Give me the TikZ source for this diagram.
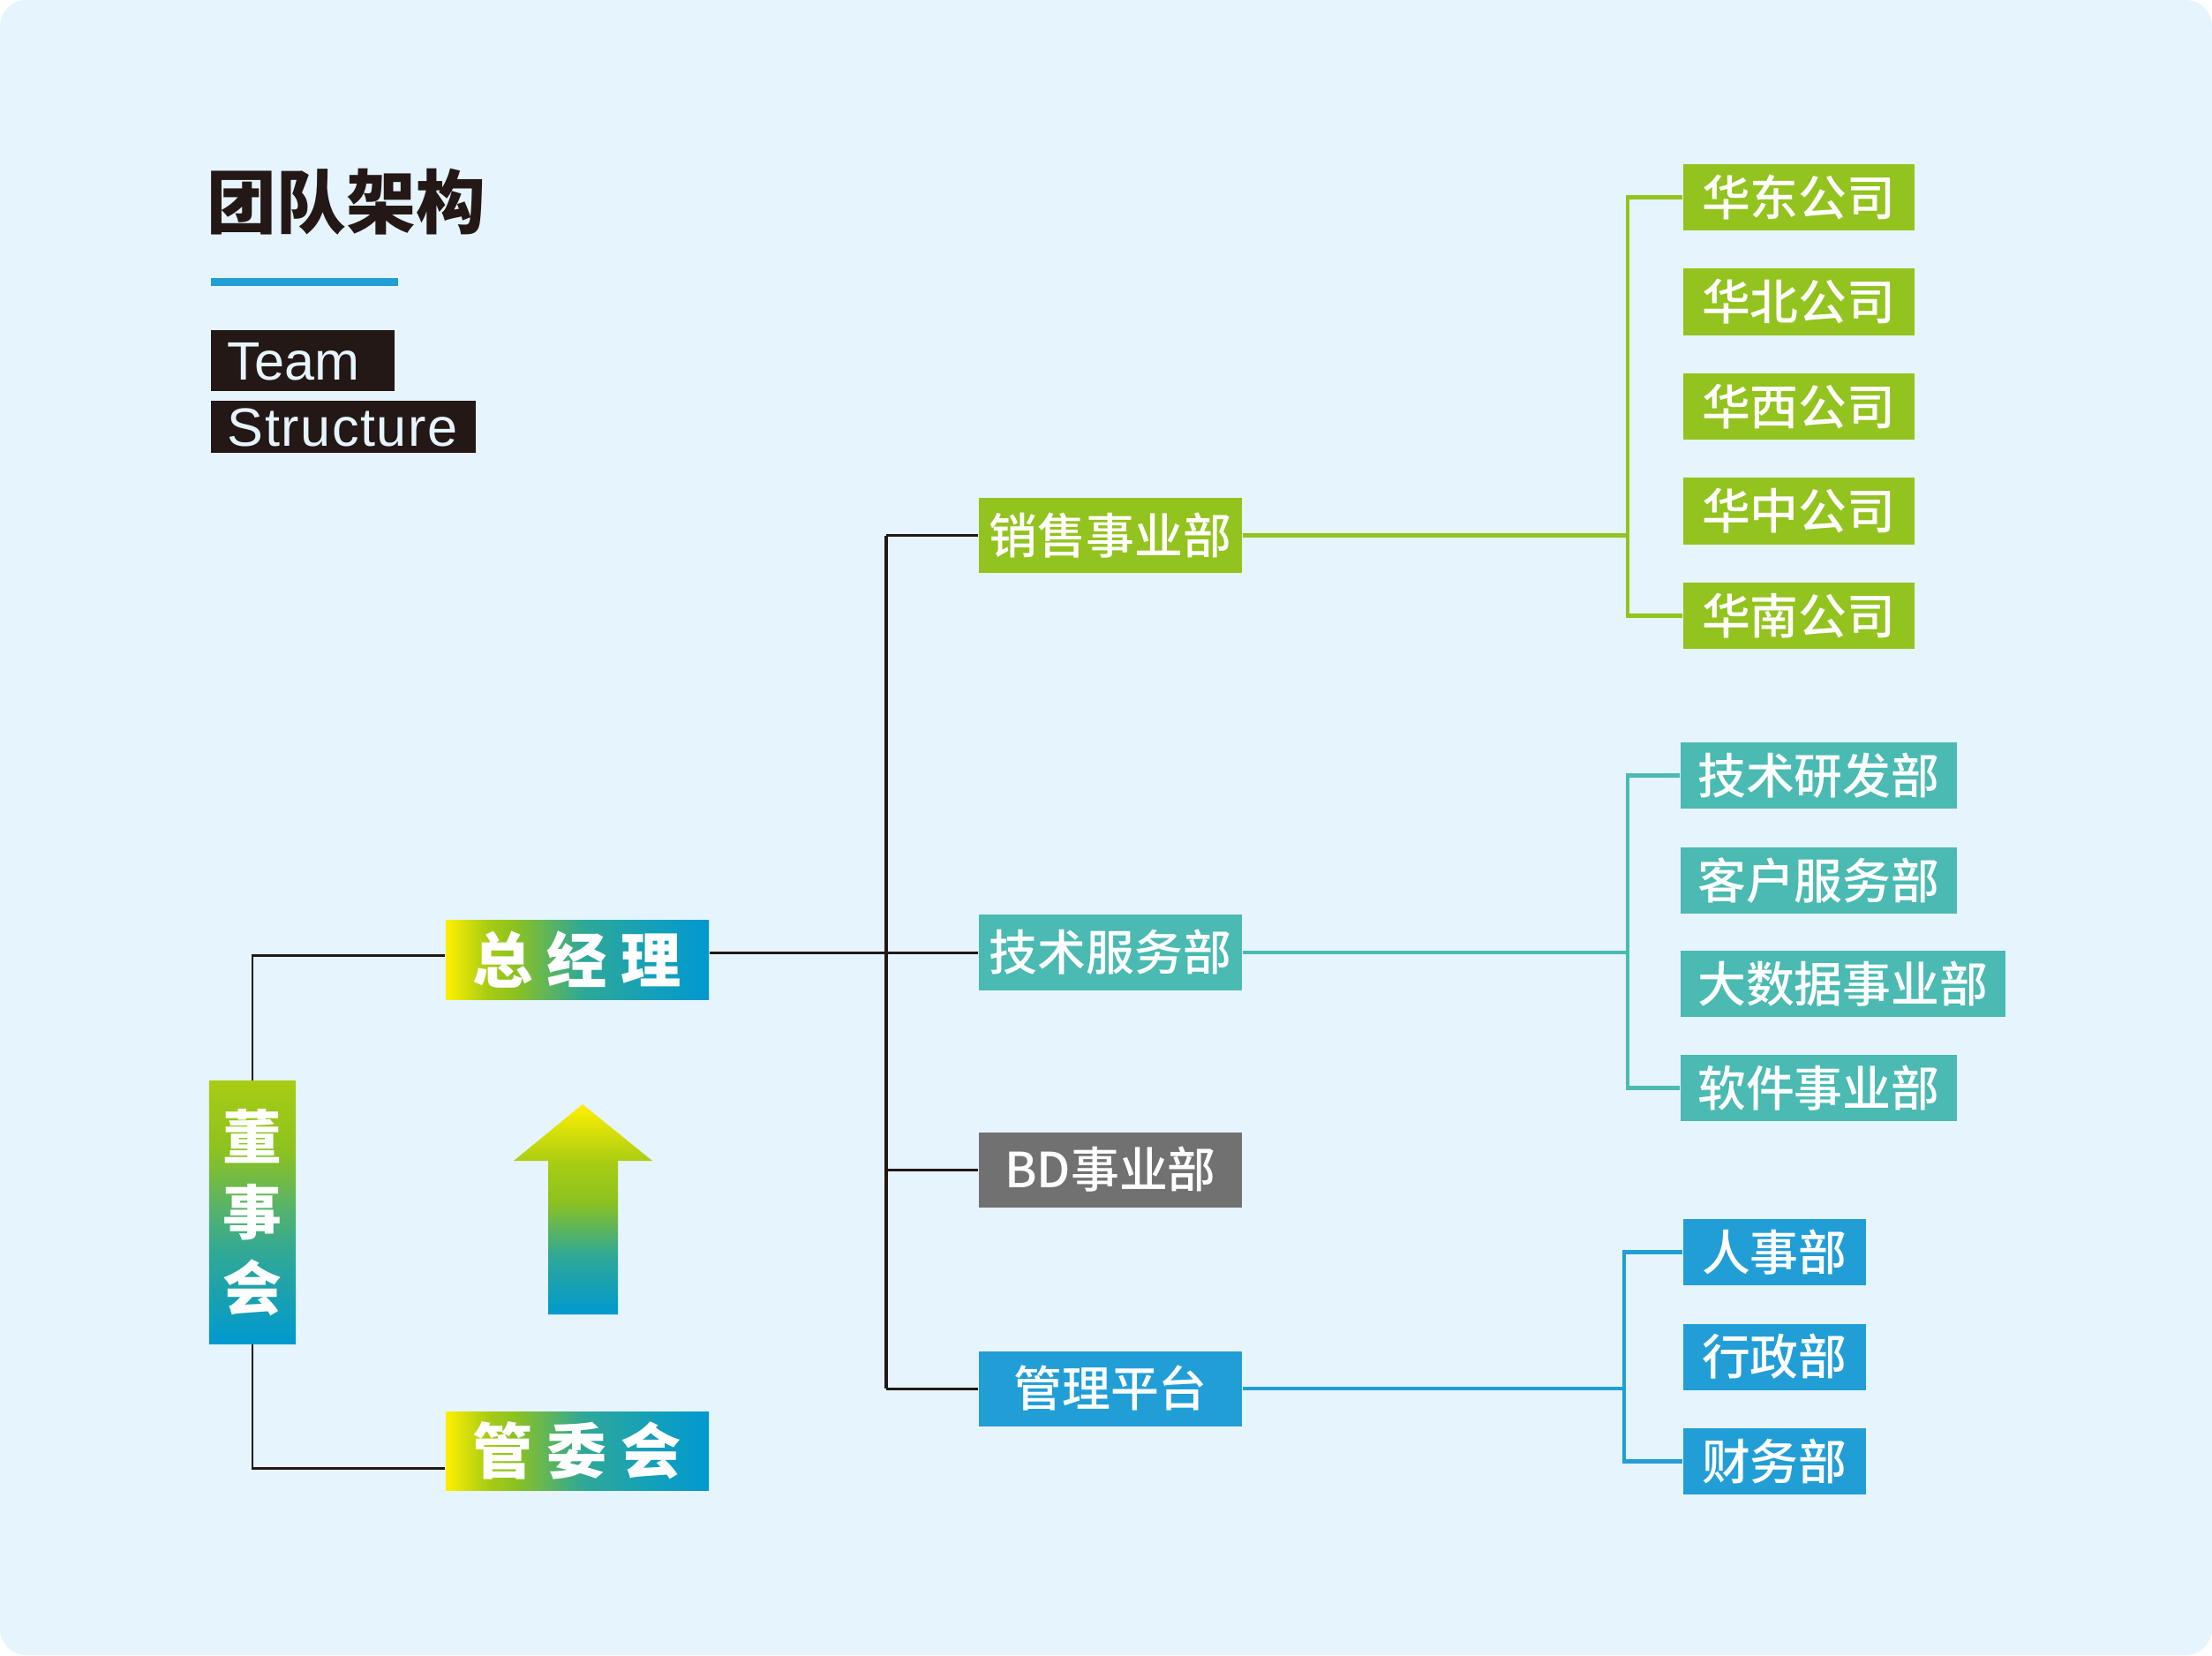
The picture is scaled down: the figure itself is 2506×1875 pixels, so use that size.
\documentclass[tikz,border=0pt]{standalone}
\usepackage{fontspec}
\newfontfamily\cjk{Noto Sans CJK SC}
\newfontfamily\cjkmed{Noto Sans CJK SC Medium}
\newfontfamily\latinsf{Liberation Sans}
\usetikzlibrary{positioning,calc}

\definecolor{bgblue}{HTML}{E6F4FE}
\definecolor{tblack}{HTML}{231815}
\definecolor{salesgreen}{HTML}{93C31E}
\definecolor{techteal}{HTML}{4ABAB2}
\definecolor{bdgray}{HTML}{717171}
\definecolor{mgmtblue}{HTML}{229ED6}
\definecolor{gyel}{HTML}{FFF000}
\definecolor{gygr}{HTML}{A8CC14}
\definecolor{ggrn}{HTML}{8DC21F}
\definecolor{gmid}{HTML}{52B26F}
\definecolor{gtea}{HTML}{2FA897}
\definecolor{gcya}{HTML}{14A0BA}
\definecolor{gblu}{HTML}{0099CF}

\pgfdeclarehorizontalshading{headshade}{100bp}{color(0bp)=(gyel); color(25bp)=(gyel);
  color(33bp)=(gygr); color(38bp)=(ggrn); color(51bp)=(gtea); color(64bp)=(gcya);
  color(75bp)=(gblu); color(100bp)=(gblu)}
\pgfdeclareverticalshading{boardshade}{100bp}{color(0bp)=(gblu); color(25bp)=(gblu);
  color(42bp)=(gtea); color(50bp)=(gmid); color(62bp)=(ggrn); color(75bp)=(gygr);
  color(100bp)=(gygr)}
\pgfdeclareverticalshading{arrowshade}{100bp}{color(0bp)=(gblu); color(25bp)=(gblu);
  color(39bp)=(gtea); color(52bp)=(ggrn); color(61bp)=(gygr); color(75bp)=(gyel);
  color(100bp)=(gyel)}

\begin{document}
\begin{tikzpicture}[x=0.01cm,y=-0.01cm,
    lvtwo/.style={minimum width=2.98cm,minimum height=0.85cm,inner sep=0pt,text=white,
      font=\cjkmed\fontsize{15.6}{18}\selectfont,text height=13pt,text depth=1.1pt},
    lvthree/.style={lvtwo,minimum height=0.75cm,anchor=west},
    topbox/.style={shade,shading=headshade,minimum width=2.98cm,minimum height=0.89cm,
      inner sep=0pt,text=white,font=\cjk\bfseries\fontsize{19.4}{22}\selectfont,
      text height=16.1pt,text depth=1.4pt},
    tagbox/.style={fill=tblack,text=bgblue,anchor=north west,inner xsep=0.19cm,
      inner ysep=0pt,align=left,font=\latinsf\fontsize{17.4}{20}\selectfont,
      text height=12.45pt,text depth=0pt},
    blackline/.style={tblack,line width=0.85pt},
    busline/.style={line width=1.4pt}]
    \useasboundingbox (0,0) rectangle (2506,1875);
    \fill[white] (0,0) rectangle (2506,1875);
    \fill[bgblue,rounded corners=0.3cm] (0,0) rectangle (2506,1875);

    % Heading
    \node[anchor=west,inner sep=0pt,text=tblack,font=\cjk\bfseries\fontsize{22.4}{26}\selectfont] (title) at (234,229) {团队架构};
    \fill[mgmtblue] (239,315) rectangle (451,324);
    \node[tagbox,text width=1.70cm,minimum height=0.69cm] (team) at (238,373) {Team};
    \node[tagbox,text width=2.62cm,minimum height=0.59cm] (structure) at (238,453) {\addfontfeature{LetterSpace=2.5}Structure};

    % Top level
    \node[topbox] (zjl) at (654,1087.5) {总\hspace{4.5pt}经\hspace{4.5pt}理};
    \node[topbox] (gwh) at (654,1643.5) {管\hspace{4.5pt}委\hspace{4.5pt}会};
    \node[shade,shading=boardshade,minimum width=0.98cm,minimum height=2.97cm,inner sep=0pt,
      text=white,align=center,font=\cjk\bfseries\fontsize{19}{24.2}\selectfont] (dsh) at (286,1373.5) {董\\事\\会};
    \shade[shading=arrowshade] (660,1251) -- (739,1315) -- (700,1315) -- (700,1489)
      -- (621,1489) -- (621,1315) -- (582,1315) -- cycle;
    \draw[blackline] (dsh.north) |- ([yshift=0.05cm]zjl.west);
    \draw[blackline] (dsh.south) |- ([yshift=-0.2cm]gwh.west);

    % Departments
    \node[lvtwo,fill=salesgreen] (xs) at (1258,606.5) {销售事业部};
    \node[lvtwo,fill=techteal] (js) at (1258,1079) {技术服务部};
    \node[lvtwo,fill=bdgray] (bd) at (1258,1325) {BD事业部};
    \node[lvtwo,fill=mgmtblue] (gl) at (1258,1573) {管理平台};
    \coordinate (trunk) at (1004,0);
    \draw[tblack,line width=1.2pt] (xs.west -| trunk) -- (gl.west -| trunk);
    \draw[blackline] (js.west) -- (js.west -| zjl.east);
    \draw[blackline] (xs.west) -- (xs.west -| trunk);
    \draw[blackline] (bd.west) -- (bd.west -| trunk);
    \draw[blackline] (gl.west) -- (gl.west -| trunk);

    % Sales companies
    \node[lvthree,fill=salesgreen,minimum width=2.62cm] (hd) at (1906,223.5) {华东公司};
    \node[lvthree,fill=salesgreen,minimum width=2.62cm] (hb) at (1906,342) {华北公司};
    \node[lvthree,fill=salesgreen,minimum width=2.62cm] (hx) at (1906,460.5) {华西公司};
    \node[lvthree,fill=salesgreen,minimum width=2.62cm] (hz) at (1906,579) {华中公司};
    \node[lvthree,fill=salesgreen,minimum width=2.62cm] (hn) at (1906,697.5) {华南公司};
    \coordinate (gbus) at (1844,0);
    \draw[busline,salesgreen] (hd.west) -- (hd.west -| gbus) -- (hn.west -| gbus) -- (hn.west);
    \draw[busline,salesgreen] (xs.east) -- (xs.east -| gbus);

    % Tech units
    \node[lvthree,fill=techteal,minimum width=3.13cm] (yf) at (1903,878.5) {技术研发部};
    \node[lvthree,fill=techteal,minimum width=3.13cm] (kf) at (1903,997.5) {客户服务部};
    \node[lvthree,fill=techteal,minimum width=3.68cm] (dsj) at (1903,1114.5) {大数据事业部};
    \node[lvthree,fill=techteal,minimum width=3.13cm] (rj) at (1903,1232.5) {软件事业部};
    \coordinate (tbus) at (1844,0);
    \draw[busline,techteal] (yf.west) -- (yf.west -| tbus) -- (rj.west -| tbus) -- (rj.west);
    \draw[busline,techteal] (js.east) -- (js.east -| tbus);

    % Admin units
    \node[lvthree,fill=mgmtblue,minimum width=2.07cm] (rs) at (1906,1418.5) {人事部};
    \node[lvthree,fill=mgmtblue,minimum width=2.07cm] (xz) at (1906,1537) {行政部};
    \node[lvthree,fill=mgmtblue,minimum width=2.07cm] (cw) at (1906,1655.5) {财务部};
    \coordinate (mbus) at (1840,0);
    \draw[busline,mgmtblue] (rs.west) -- (rs.west -| mbus) -- (cw.west -| mbus) -- (cw.west);
    \draw[busline,mgmtblue] (gl.east) -- (gl.east -| mbus);
\end{tikzpicture}
\end{document}
